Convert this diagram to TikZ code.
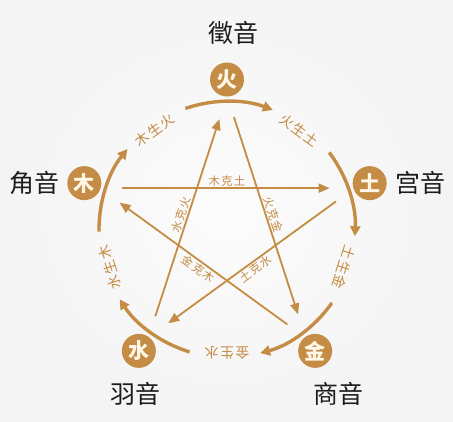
\documentclass[tikz,border=0pt]{standalone}
\usepackage{fontspec}
\setmainfont{Noto Sans CJK SC}
\newfontfamily\cjktrack[LetterSpace=10]{Noto Sans CJK SC}
\usetikzlibrary{arrows.meta,positioning,calc}
\definecolor{wxgold}{RGB}{196,140,68}
\definecolor{wxcream}{RGB}{255,247,232}
\definecolor{wxpaper}{RGB}{244,244,244}
\definecolor{wxink}{RGB}{28,28,28}

\begin{document}
\begin{tikzpicture}[x=1pt, y=1pt,
  elem/.style={circle, fill=wxgold, text=wxcream, minimum size=34pt,
    inner sep=0pt, font=\bfseries\fontsize{21}{21}\selectfont},
  yin/.style={text=wxink, inner sep=0pt, font=\fontsize{25}{25}\selectfont},
  sheng/.style={-{Triangle[length=10pt, width=10pt]}, line width=3.4pt, draw=wxgold},
  shengtxt/.style={text=wxgold, inner sep=0pt, font=\cjktrack\fontsize{14}{14}\selectfont},
  ke/.style={-{Triangle[length=11pt, width=9pt]}, line width=1.8pt, draw=wxgold,
    shorten <=38pt, shorten >=40pt},
  ketxt/.style={text=wxgold, inner sep=1pt, font=\cjktrack\fontsize{11.5}{11.5}\selectfont}
]
  % Paper
  \useasboundingbox (-227,-191.5) rectangle (226,229.5);
  \shade[inner color=white!70!wxpaper, outer color=wxpaper] (-227,-191.5) rectangle (226,229.5);

  % Five elements
  \node[elem] (huo)  at (90:150)   {火};
  \node[elem] (tu)   at (18:150)   {土};
  \node[elem] (jin)  at (-54:150)  {金};
  \node[elem] (shui) at (-126:150) {水};
  \node[elem] (mu)   at (162:150)  {木};

  % Five tones
  \node[yin, above=18pt of huo, xshift=7pt] (zhi) {徵音};
  \node[yin, right=8pt of tu] (gong) {宫音};
  \node[yin, left=7pt of mu] (jue) {角音};
  \node[yin, below=14pt of shui, xshift=-3pt] (yu) {羽音};
  \node[yin, below=14pt of jin, xshift=23pt] (shang) {商音};

  % Generating ring
  \foreach \ang in {90,18,-54,-126,162} {
    \draw[sheng] (\ang+19:128) arc[start angle=\ang+19, end angle=\ang-21, radius=128];
  }
  \foreach \ang/\name/\txt in {54/huotu/火生土, -18/tujin/土生金, -90/jinshui/金生水,
      -162/shuimu/水生木, 126/muhuo/木生火} {
    \node[shengtxt, rotate=\ang-90] (\name) at (\ang:123) {\txt};
  }

  % Overcoming star
  \foreach \src/\dst/\txt/\side in {mu/tu/木克土/above, huo/jin/火克金/above,
      tu/shui/土克水/below, jin/mu/金克木/below, shui/huo/水克火/above} {
    \draw[ke] ($(\src)!5pt!-90:(\dst)$) -- node[ketxt, sloped, pos=0.5, \side] {\txt}
      ($(\dst)!5pt!90:(\src)$);
  }
\end{tikzpicture}
\end{document}
